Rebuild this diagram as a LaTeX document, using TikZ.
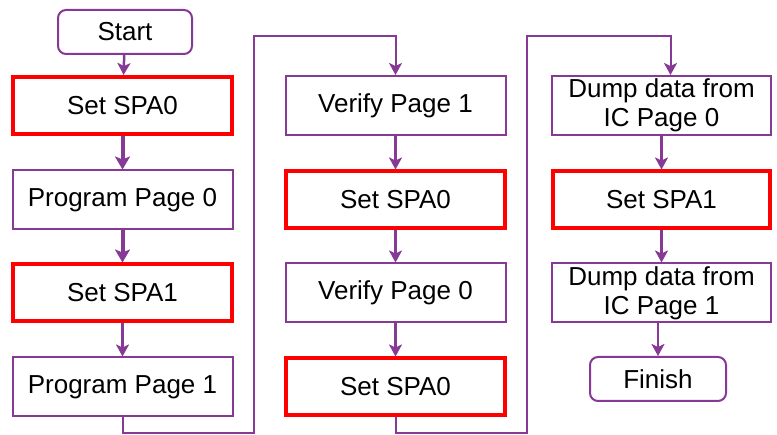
\documentclass[tikz,border=0pt]{standalone}
\usepackage{fontspec}
\setmainfont{Liberation Sans}
\usetikzlibrary{arrows.meta}
\definecolor{flowpurple}{RGB}{134,58,150}
\definecolor{flowred}{RGB}{255,0,0}
\tikzset{
    stepbox/.style = {draw = flowpurple, line width = 2pt, minimum width = 220pt, minimum height = 59pt,
        align = center, font = \fontsize{26}{29}\selectfont, inner sep = 2pt},
    spabox/.style = {stepbox, draw = flowred, line width = 4pt, minimum width = 219pt, minimum height = 57pt},
    termbox/.style = {stepbox, rounded corners = 8pt, minimum width = 134pt, minimum height = 44pt},
    link/.style = {draw = flowpurple, line width = 2.5pt, arrows = {-Stealth[length = 12pt, width = 13pt, inset = 3pt]}},
    biglink/.style = {draw = flowpurple, line width = 4pt, arrows = {-Stealth[length = 13pt, width = 15pt, inset = 3pt]}}
}
\begin{document}
\begin{tikzpicture}[x = 1pt, y = 1pt]
    \useasboundingbox (0, 0) rectangle (777, -435);
    % first column
    \node[termbox] (start) at (125, -32) {Start};
    \node[spabox] (spa0a) at (122.5, -105.5) {Set SPA0};
    \node[stepbox] (pp0) at (122.5, -200) {Program Page 0};
    \node[spabox] (spa1a) at (122.5, -293) {Set SPA1};
    \node[stepbox] (pp1) at (122.5, -387) {Program Page 1};
    % second column
    \node[stepbox] (vp1) at (395.5, -105.5) {Verify Page 1};
    \node[spabox] (spa0b) at (395.5, -200) {Set SPA0};
    \node[stepbox] (vp0) at (395.5, -293) {Verify Page 0};
    \node[spabox] (spa0c) at (395.5, -387) {Set SPA0};
    % third column
    \node[stepbox, minimum width = 219pt] (dd0) at (661.5, -105.5) {Dump data from\\IC Page 0};
    \node[spabox, minimum width = 217pt] (spa1b) at (661.5, -200) {Set SPA1};
    \node[stepbox, minimum width = 219pt] (dd1) at (661.5, -293) {Dump data from\\IC Page 1};
    \node[termbox, minimum width = 136pt] (finish) at (658, -379) {Finish};

    \draw[link] (start) -- (spa0a);
    \draw[biglink] (spa0a) -- (pp0);
    \draw[biglink] (pp0) -- (spa1a);
    \draw[link] (spa1a) -- (pp1);

    \coordinate (low1) at (254, -433);
    \coordinate (high1) at (254, -36);
    \draw[link, line width = 2pt] (pp1.south) |- (low1) -- (high1) -| (vp1.north);

    \draw[link] (vp1) -- (spa0b);
    \draw[link] (spa0b) -- (vp0);
    \draw[link] (vp0) -- (spa0c);

    \coordinate (low2) at (527, -433);
    \coordinate (high2) at (527, -36);
    \draw[link, line width = 2pt] (spa0c.south) |- (low2) -- (high2) -| ([xshift = 9pt]dd0.north);

    \draw[link] (dd0) -- (spa1b);
    \draw[link] (spa1b) -- (dd1);
    \draw[link] (dd1.south -| finish.north) -- (finish);
\end{tikzpicture}
\end{document}
